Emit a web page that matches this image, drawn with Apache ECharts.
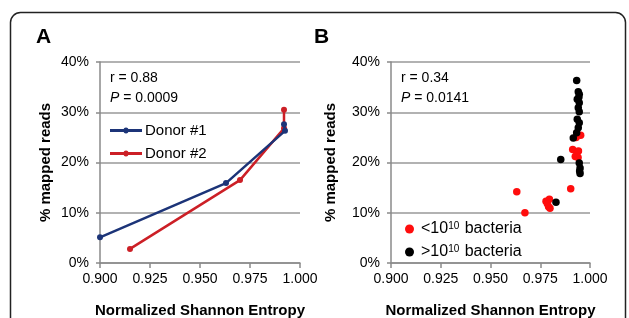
<!DOCTYPE html>
<html><head><meta charset="utf-8">
<script src="https://cdn.jsdelivr.net/npm/echarts@6/dist/echarts.min.js"></script>
<style>html,body{margin:0;padding:0;background:#fff}#c{width:629px;height:318px}</style>
</head><body><div id="c"></div>
<script>
// Panel A: Normalized Shannon Entropy vs % mapped reads, per donor
var donor1X = [0.900, 0.963, 0.9925, 0.992];
var donor1Y = [5.1, 15.9, 26.3, 27.6];
var donor2X = [0.915, 0.970, 0.992, 0.992];
var donor2Y = [2.8, 16.5, 26.8, 30.5];
// Panel B: samples grouped by bacterial load
var lowX = [0.9632, 0.9673, 0.9779, 0.9796, 0.9792, 0.9799, 0.9786, 0.9903, 0.9913, 0.9926, 0.9935, 0.9942, 0.9940, 0.9953, 0.9930];
var lowY = [14.2, 10.0, 12.3, 12.7, 11.2, 10.9, 11.8, 14.8, 22.6, 21.2, 22.0, 22.3, 21.0, 25.4, 25.0];
var highX = [0.9933, 0.9941, 0.9946, 0.9936, 0.9946, 0.9941, 0.9946, 0.9936, 0.9946, 0.9941, 0.9933, 0.9916, 0.9853, 0.9946, 0.9950, 0.9950, 0.9829, 0.9944, 0.9948];
var highY = [36.3, 34.1, 33.6, 32.6, 31.9, 30.9, 30.1, 28.6, 27.9, 26.9, 25.9, 24.9, 20.6, 19.9, 18.9, 17.8, 12.1, 33.0, 18.3];
var xTicks = ['0.900', '0.925', '0.950', '0.975', '1.000'];
var yTicks = ['0%', '10%', '20%', '30%', '40%'];

function pairs(xs, ys) { return xs.map(function (x, i) { return [x, ys[i]]; }); }

var axisGray = '#8a8a8a';
var txtFont = 'Liberation Sans, Arial, sans-serif';
var tickFont = { fontFamily: txtFont, fontSize: 14, color: '#000' };

function xAxis(idx) {
  return {
    gridIndex: idx, type: 'value', min: 0.9, max: 1.0, interval: 0.025,
    name: 'Normalized Shannon Entropy', nameLocation: 'middle', nameGap: 40,
    nameTextStyle: { fontFamily: txtFont, fontSize: 15, fontWeight: 'bold', color: '#000' },
    axisLine: { show: true, lineStyle: { color: axisGray, width: 1.5 } },
    axisTick: { show: true, length: 5, lineStyle: { color: axisGray, width: 1.5 } },
    axisLabel: Object.assign({ margin: 9, formatter: function (v) { return xTicks[Math.round((v - 0.9) / 0.025)]; } }, tickFont),
    splitLine: { show: false }
  };
}
function yAxis(idx, gap) {
  return {
    gridIndex: idx, type: 'value', min: 0, max: 40, interval: 10,
    name: '% mapped reads', nameLocation: 'middle', nameGap: gap, nameRotate: 90,
    nameTextStyle: { fontFamily: txtFont, fontSize: 15, fontWeight: 'bold', color: '#000' },
    axisLine: { show: true, lineStyle: { color: axisGray, width: 1.5 } },
    axisTick: { show: true, length: 4, lineStyle: { color: axisGray, width: 1.5 } },
    axisLabel: Object.assign({ margin: 11, formatter: function (v) { return yTicks[Math.round(v / 10)]; } }, tickFont),
    splitLine: { show: true, lineStyle: { color: '#999', width: 1.5 } }
  };
}

var chart = echarts.init(document.getElementById('c'), null, { renderer: 'canvas' });
var navy = '#1c3478', red = '#cc1f26';
var lineIcon = 'path://M0,4 L30,4 L30,6.4 L0,6.4 Z M15,2.8 A2.4,2.4 0 1 1 15,7.6 A2.4,2.4 0 1 1 15,2.8 Z';

chart.setOption({
  animation: false,
  grid: [
    { left: 100, top: 62, width: 200, height: 201, outerBoundsMode: 'none', containLabel: false },
    { left: 391, top: 62, width: 199, height: 201, outerBoundsMode: 'none', containLabel: false }
  ],
  xAxis: [xAxis(0), xAxis(1)],
  yAxis: [yAxis(0, 47), yAxis(1, 53)],
  legend: [
    {
      left: 105, top: 118, orient: 'vertical', itemGap: 8, itemWidth: 32, itemHeight: 6,
      icon: lineIcon, symbolKeepAspect: false,
      data: ['Donor #1', 'Donor #2'],
      textStyle: { fontFamily: txtFont, fontSize: 15, color: '#000', padding: [0, 0, 0, -2] }
    },
    {
      left: 400, top: 216, orient: 'vertical', itemGap: 3, itemWidth: 9, itemHeight: 9,
      icon: 'circle',
      data: ['low', 'high'],
      formatter: function (n) { return n === 'low' ? '<10{s|10} bacteria' : '>10{s|10} bacteria'; },
      textStyle: { fontFamily: txtFont, fontSize: 16, color: '#000', padding: [0, 0, 0, 2],
        rich: { s: { fontFamily: txtFont, fontSize: 10, verticalAlign: 'top', lineHeight: 10, padding: [0, 1, 10, 0] } } }
    }
  ],
  series: [
    { name: 'Donor #1', type: 'line', xAxisIndex: 0, yAxisIndex: 0, data: pairs(donor1X, donor1Y),
      symbol: 'circle', symbolSize: 6, color: navy, lineStyle: { color: navy, width: 2.5 }, itemStyle: { color: navy } },
    { name: 'Donor #2', type: 'line', xAxisIndex: 0, yAxisIndex: 0, data: pairs(donor2X, donor2Y),
      symbol: 'circle', symbolSize: 6, color: red, lineStyle: { color: red, width: 2.5 }, itemStyle: { color: red }, z: 1 },
    { name: 'low', type: 'scatter', xAxisIndex: 1, yAxisIndex: 1, data: pairs(lowX, lowY),
      symbolSize: 7.5, itemStyle: { color: '#ff0d0d', opacity: 1 } },
    { name: 'high', type: 'scatter', xAxisIndex: 1, yAxisIndex: 1, data: pairs(highX, highY),
      symbolSize: 7.5, itemStyle: { color: '#000', opacity: 1 } }
  ],
  graphic: [
    { type: 'rect', shape: { x: 10.5, y: 12.5, width: 615, height: 340, r: 10 }, style: { fill: 'none', stroke: '#222', lineWidth: 1.5 }, silent: true },
    { type: 'text', left: 36, top: 27, style: { text: 'A', font: 'bold 21px ' + txtFont, fill: '#000' } },
    { type: 'text', left: 314, top: 27, style: { text: 'B', font: 'bold 21px ' + txtFont, fill: '#000' } },
    { type: 'text', left: 110, top: 71, style: { text: 'r = 0.88', font: '14px ' + txtFont, fill: '#000' } },
    { type: 'text', left: 110, top: 91, style: { text: '{i|P} = 0.0009', font: '14px ' + txtFont, fill: '#000',
        rich: { i: { fontStyle: 'italic', fontFamily: txtFont, fontSize: 14 } } } },
    { type: 'text', left: 401, top: 71, style: { text: 'r = 0.34', font: '14px ' + txtFont, fill: '#000' } },
    { type: 'text', left: 401, top: 91, style: { text: '{i|P} = 0.0141', font: '14px ' + txtFont, fill: '#000',
        rich: { i: { fontStyle: 'italic', fontFamily: txtFont, fontSize: 14 } } } }
  ]
});
</script>
</body></html>
